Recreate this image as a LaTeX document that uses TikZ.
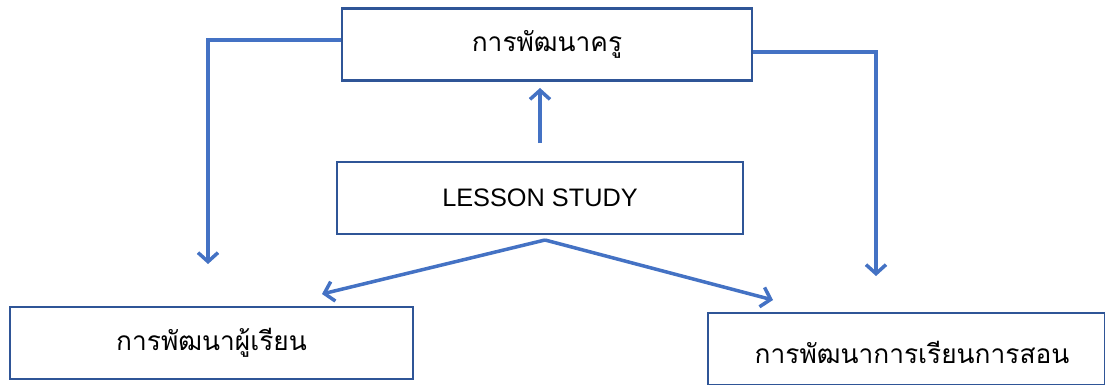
\documentclass[tikz,border=0pt]{standalone}
\usepackage{fontspec}
\setmainfont{Liberation Sans}
\newfontfamily\thaifont[Script=Thai]{Loma}
\usetikzlibrary{arrows.meta}
\definecolor{boxblue}{HTML}{2F5597}
\definecolor{lineblue}{HTML}{4472C4}
\tikzset{
  box/.style={draw=boxblue, line width=2.5pt, fill=white, inner sep=0pt, anchor=center},
  conn/.style={draw=lineblue, line width=3.5pt, -{Straight Barb[length=9pt,width=20pt,line width=3.5pt]}},
  thai/.style={font=\thaifont\fontsize{26.3}{30}\selectfont},
}
\begin{document}
\begin{tikzpicture}[x=1pt,y=-1pt]
\useasboundingbox (0,0) rectangle (1105,385);
\fill[white] (0,0) rectangle (1105,385);
\node[box, minimum width=410pt, minimum height=72pt, thai] (top) at (547,44.5) {การพัฒนาครู};
\node[box, minimum width=406pt, minimum height=72pt, font=\fontsize{25.3}{28}\selectfont] (ls) at (540,198) {LESSON STUDY};
\node[box, minimum width=403pt, minimum height=72pt, thai] (bl) at (211.5,343) {การพัฒนาผู้เรียน};
\node[box, minimum width=397pt, minimum height=72pt, thai] (br) at (906.5,349) {};
\node[thai] (brt) at (912,352) {การพัฒนาการเรียนการสอน};
\coordinate (ltip) at (208,264);
\coordinate (rtip) at (876,276);
\coordinate (ub) at (540,143);
\coordinate (ut) at (540,88);
\coordinate (ds) at (545,240);
\coordinate (dl) at (322,294);
\coordinate (dr) at (773,300);
\draw[conn] ([yshift=4.5pt]top.west) -| (ltip);
\draw[conn] ([yshift=-7.5pt]top.east) -| (rtip);
\draw[conn] (ub) -- (ut);
\draw[conn] (ds) -- (dl);
\draw[conn] (ds) -- (dr);
\end{tikzpicture}
\end{document}
